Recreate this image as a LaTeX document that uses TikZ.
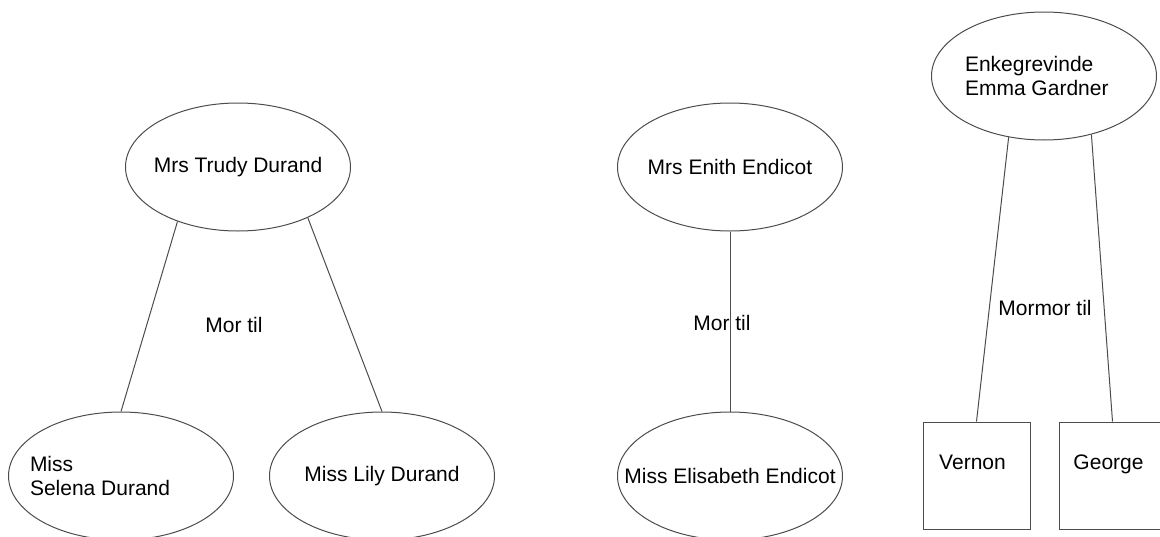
\documentclass[tikz,border=0pt]{standalone}
\usepackage{fontspec}
\setmainfont{Liberation Sans}
\usetikzlibrary{shapes.geometric}
\newcommand{\narrowtext}[1]{\makebox[0pt]{#1}}
\begin{document}
\begin{tikzpicture}[x=1pt,y=-1pt,line width=1pt,font={\fontsize{21}{24}\selectfont},
  person/.style={ellipse,draw=black!70,minimum width=225pt,minimum height=128pt,inner sep=0pt},
  child box/.style={rectangle,draw=black!70,minimum size=107pt,inner sep=0pt,text height=15pt,text depth=28pt}]
  \useasboundingbox (0,0) rectangle (1160,536);

  \node[person] (trudy) at (238,167) {\narrowtext{\raisebox{4pt}{Mrs Trudy Durand}}};
  \node[person] (selena) at (121,476) {\narrowtext{\parbox{182pt}{Miss\\Selena Durand}}};
  \node[person] (lily) at (382,476) {\narrowtext{Miss Lily Durand}};
  \node (mor a) at (234,325) {Mor til};

  \node[person] (enith) at (730,167) {\narrowtext{Mrs Enith Endicot}};
  \node[person] (elisabeth) at (730,476) {\narrowtext{Miss Elisabeth Endicot}};
  \node (mor b) at (722,323) {Mor til};

  \node[person] (emma) at (1044,76) {\narrowtext{\parbox{158pt}{Enkegrevinde\\Emma Gardner}}};
  \node[child box] (vernon) at (976.5,475.5) {\hspace*{-8pt}Vernon};
  \node[child box] (george) at (1112.5,475.5) {\hspace*{-8pt}George};
  \node (mormor) at (1045,308) {Mormor til};

  \path[black!70]
    (trudy.222) edge (selena.north)
    (trudy.-36) edge (lily.north)
    (enith.south) edge (elisabeth.north)
    (emma.240) edge (vernon.north)
    (emma.-51) edge (george.north);
\end{tikzpicture}
\end{document}
